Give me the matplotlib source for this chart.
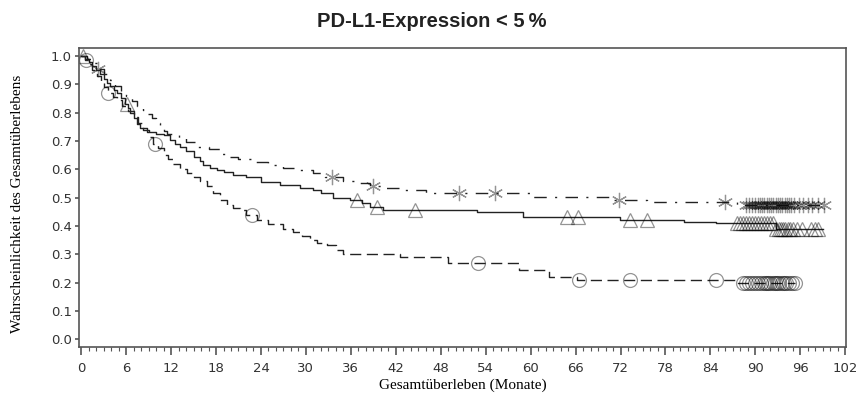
import numpy as np
import matplotlib
matplotlib.use("Agg")
import matplotlib.pyplot as plt
from matplotlib.ticker import MultipleLocator

# Kaplan-Meier steps (time in months, survival)
t_dashdot = [0, 0.8, 1.5, 2.3, 3, 3.8, 4.5, 5.3, 6, 6.8, 7.5, 8.2, 8.8, 9.4, 10, 10.5, 11,
             11.5, 13, 14, 15.4, 17, 18.5, 19.4, 21, 23, 25, 27, 29, 31, 32.5, 35, 37.2,
             38.5, 40, 42.5, 46, 60, 71, 75.5, 87.5, 99.6]
s_dashdot = [1.0, 0.99, 0.975, 0.955, 0.935, 0.915, 0.895, 0.875, 0.86, 0.84, 0.825, 0.81,
             0.795, 0.78, 0.765, 0.75, 0.735, 0.725, 0.71, 0.695, 0.68, 0.67, 0.655, 0.643,
             0.635, 0.626, 0.615, 0.604, 0.596, 0.586, 0.572, 0.56, 0.55, 0.54, 0.533, 0.527,
             0.516, 0.502, 0.49, 0.483, 0.473, 0.473]
cens_dashdot = [2.3, 33.5, 39, 50.5, 55.3, 71.8, 86,
                88.8, 89.2, 89.6, 90.0, 90.3, 90.6, 90.9, 91.2, 91.5, 91.8, 92.1, 92.4,
                92.7, 93.0, 93.3, 93.6, 93.9, 94.2, 94.5, 94.8, 95.2, 95.8, 96.4, 97.0,
                97.6, 98.3, 99.2]

t_solid = [0, 0.5, 1, 1.5, 2, 2.5, 3, 3.5, 3.9, 4.4, 4.8, 5.3, 5.8, 6.2, 6.5, 7, 7.5, 7.9,
           8.8, 10, 11, 11.8, 12.5, 13.2, 14, 15, 15.8, 16.3, 17.2, 18.1, 19, 20.3, 22, 24,
           26.5, 29.2, 31, 32, 33.6, 35.9, 37.5, 38.5, 40.3, 52.8, 59, 71.9, 80.5, 84.8,
           92.8, 99]
s_solid = [1.0, 0.99, 0.98, 0.965, 0.95, 0.935, 0.92, 0.905, 0.895, 0.88, 0.87, 0.85, 0.83,
           0.815, 0.80, 0.78, 0.76, 0.745, 0.73, 0.725, 0.72, 0.705, 0.69, 0.68, 0.665,
           0.645, 0.628, 0.614, 0.605, 0.597, 0.59, 0.58, 0.573, 0.555, 0.544, 0.533, 0.527,
           0.516, 0.50, 0.49, 0.48, 0.467, 0.456, 0.448, 0.43, 0.42, 0.415, 0.41, 0.39, 0.39]
cens_solid = [0.3, 6.1, 36.8, 39.5, 44.5, 64.8, 66.3, 73.2, 75.5,
              87.6, 88.0, 88.4, 88.8, 89.2, 89.6, 90.0, 90.4, 90.8, 91.2, 91.6, 92.0,
              92.4, 92.8, 93.1, 93.4, 93.7, 94.0, 94.3, 94.6, 95.0, 95.5, 96.2, 97.4,
              97.9, 98.4]

t_dashed = [0, 0.5, 1, 1.5, 2.1, 2.6, 3.1, 3.6, 4.2, 4.8, 5.5, 6.2, 7, 7.6, 8.3, 9, 9.6,
            10.2, 11, 11.6, 12.3, 13.2, 14.1, 15, 15.9, 16.8, 17.6, 18.5, 19.5, 20.3, 21.2,
            22, 23.5, 25, 27, 28.3, 29.5, 30.5, 31.5, 32.8, 34, 35, 42.5, 49, 58.5, 62.5,
            66.2, 87.5, 95.3]
s_dashed = [1.0, 0.985, 0.97, 0.95, 0.93, 0.91, 0.89, 0.87, 0.855, 0.845, 0.825, 0.805,
            0.785, 0.765, 0.74, 0.715, 0.69, 0.675, 0.65, 0.635, 0.62, 0.60, 0.586, 0.573,
            0.56, 0.54, 0.515, 0.49, 0.475, 0.465, 0.455, 0.44, 0.42, 0.405, 0.39, 0.38,
            0.365, 0.35, 0.34, 0.333, 0.315, 0.30, 0.29, 0.268, 0.244, 0.22, 0.21, 0.198,
            0.198]
cens_dashed = [0.6, 3.6, 9.9, 22.8, 53, 66.5, 73.2, 84.8,
               88.3, 88.7, 89.1, 89.5, 89.9, 90.3, 90.7, 91.1, 91.4, 91.7, 92.0, 92.3,
               92.6, 92.9, 93.2, 93.5, 93.8, 94.1, 94.5, 94.9, 95.3]

x_ticks = list(range(0, 103, 6))
y_ticks = [0.0, 0.1, 0.2, 0.3, 0.4, 0.5, 0.6, 0.7, 0.8, 0.9, 1.0]


def censor_y(times, surv, cens):
    times = np.asarray(times)
    surv = np.asarray(surv)
    idx = np.searchsorted(times, cens, side='right') - 1
    return surv[idx]


fig = plt.figure(figsize=(8.58, 3.94), dpi=100)
ax = fig.add_axes([0.092, 0.119, 0.894, 0.759])

line_col = '#222222'
curves = [
    (t_dashdot, s_dashdot, cens_dashdot, (0, (9, 6, 1.5, 6)), (6, 2, 0), 11),
    (t_solid, s_solid, cens_solid, '-', '^', 10),
    (t_dashed, s_dashed, cens_dashed, (0, (8, 4)), 'o', 10),
]
for t, s, c, ls, mk, ms in curves:
    ax.step(t, s, where='post', color=line_col, lw=1.0, linestyle=ls)
    ax.plot(c, censor_y(t, s, c), linestyle='none', marker=mk, markersize=ms,
            markerfacecolor='none', markeredgecolor=(0, 0, 0, 0.42), markeredgewidth=0.9)

ax.set_xlim(-0.3, 102.1)
ax.set_ylim(-0.028, 1.028)
ax.set_xticks(x_ticks)
ax.set_xticklabels([str(v) for v in x_ticks])
ax.xaxis.set_minor_locator(MultipleLocator(1))
ax.set_yticks(y_ticks)
ax.set_yticklabels([f"{v:.1f}" for v in y_ticks])

for sp in ax.spines.values():
    sp.set_color('#555555')
    sp.set_linewidth(1.2)
ax.tick_params(axis='x', which='major', length=6, width=1.2, color='#555555',
               labelsize=9.5, labelcolor='#333333', pad=5)
ax.tick_params(axis='x', which='minor', length=3, width=0.8, color='#555555')
ax.tick_params(axis='y', which='major', length=3, width=1.2, color='#555555',
               labelsize=9.5, labelcolor='#333333', pad=2)

ax.set_xlabel('Gesamtüberleben (Monate)', family='Liberation Serif', fontsize=11,
              labelpad=2)
ax.set_ylabel('Wahrscheinlichkeit des Gesamtüberlebens', family='Liberation Serif',
              fontsize=11)
ax.yaxis.set_label_coords(-0.072, 0.48)
fig.text(0.503, 0.945, 'PD-L1-Expression < 5\u2009%', family=['Liberation Sans', 'DejaVu Sans'],
         fontweight='bold', fontsize=14.5, ha='center', va='center', color='#222222')

fig.savefig('out.png', dpi=100)
